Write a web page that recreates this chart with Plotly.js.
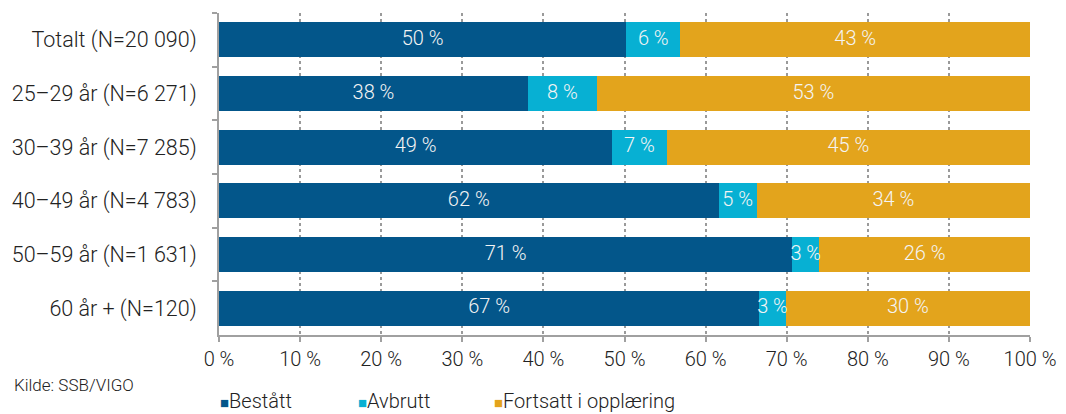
<!DOCTYPE html>
<html>
<head>
<meta charset="utf-8">
<script src="https://cdn.plot.ly/plotly-3.0.1.min.js"></script>
<style>html,body{margin:0;padding:0;background:#fff;}#chart{width:1066px;height:414px;}</style>
</head>
<body>
<div id="chart"></div>
<script>
const categories = ["Totalt (N=20 090)", "25\u201329 år (N=6 271)", "30\u201339 år (N=7 285)", "40\u201349 år (N=4 783)", "50\u201359 år (N=1 631)", "60 år + (N=120)"];
const bestatt = [50.2, 38.1, 48.5, 61.6, 70.7, 66.6];
const avbrutt = [6.7, 8.5, 6.7, 4.7, 3.3, 3.3];
const fortsatt = [43.1, 53.4, 44.8, 33.7, 26.0, 30.1];
const bestattLabels = ["50 %", "38 %", "49 %", "62 %", "71 %", "67 %"];
const avbruttLabels = ["6 %", "8 %", "7 %", "5 %", "3 %", "3 %"];
const fortsattLabels = ["43 %", "53 %", "45 %", "34 %", "26 %", "30 %"];
const seriesNames = ["Bestått", "Avbrutt", "Fortsatt i opplæring"];
const colors = ["#03568a", "#07b0d3", "#e3a41c"];
const xTickVals = [0, 10, 20, 30, 40, 50, 60, 70, 80, 90, 100];
const xTickText = ["0 %", "10 %", "20 %", "30 %", "40 %", "50 %", "60 %", "70 %", "80 %", "90 %", "100 %"];
const sourceText = "Kilde: SSB/VIGO";

const FONT = "Roboto, 'Open Sans', sans-serif";
const W = 300;
const series = [bestatt, avbrutt, fortsatt];
const labels = [bestattLabels, avbruttLabels, fortsattLabels];

const traces = [];
series.forEach((vals, i) => {
  traces.push({
    type: "bar", orientation: "h", name: seriesNames[i],
    y: categories, x: vals,
    marker: {color: colors[i], line: {width: 0}},
    hoverinfo: "x+y+name", showlegend: false
  });
});
series.forEach((vals, i) => {
  const mids = vals.map((v, k) => {
    let base = 0;
    for (let j = 0; j < i; j++) base += series[j][k];
    return base + v / 2;
  });
  traces.push({
    type: "scatter", mode: "text", x: mids, y: categories,
    text: labels[i], textposition: "middle center",
    textfont: {family: FONT, size: 20, color: "#f4f4f4", weight: W},
    showlegend: false, hoverinfo: "skip", cliponaxis: false
  });
});

const legendShifts = [-1, 137, 273];
const annotations = [{
  text: sourceText, xref: "paper", yref: "paper",
  x: 0, xanchor: "left", xshift: -207, y: 0, yanchor: "middle", yshift: -50,
  showarrow: false, font: {family: FONT, size: 17, color: "#222", weight: W}
}];
seriesNames.forEach((n, i) => {
  annotations.push({
    text: '<span style="color:' + colors[i] + ';font-size:15px">\u25A0</span>' + n,
    xref: "paper", yref: "paper", x: 0, xanchor: "left", xshift: legendShifts[i],
    y: 0, yanchor: "middle", yshift: -66, showarrow: false,
    font: {family: FONT, size: 20, color: "#222", weight: W}
  });
});

const layout = {
  width: 1066, height: 414,
  margin: {l: 219, r: 36, t: 13, b: 79, autoexpand: false},
  barmode: "stack", bargap: 0.35,
  paper_bgcolor: "#fff", plot_bgcolor: "#fff",
  font: {family: FONT, size: 20, color: "#222", weight: W},
  showlegend: false,
  xaxis: {
    range: [0, 100], tickvals: xTickVals, ticktext: xTickText,
    showgrid: true, gridcolor: "#9a9a9a", gridwidth: 2, griddash: "dot",
    showline: true, linecolor: "#a0a0a0", linewidth: 2,
    ticks: "outside", ticklen: 5, tickwidth: 2, tickcolor: "#a0a0a0",
    zeroline: false, fixedrange: true,
    tickfont: {family: FONT, size: 20, color: "#222", weight: W}
  },
  yaxis: {
    type: "category", autorange: "reversed",
    showline: true, linecolor: "#a0a0a0", linewidth: 2,
    ticks: "outside", ticklen: 5, tickwidth: 2, tickcolor: "#a0a0a0",
    tickson: "boundaries", showgrid: false, ticklabelstandoff: 16,
    tickfont: {family: FONT, size: 21.5, color: "#222", weight: W}
  },
  annotations: annotations
};

Plotly.newPlot("chart", traces, layout, {displayModeBar: false, staticPlot: true});
</script>
</body>
</html>
